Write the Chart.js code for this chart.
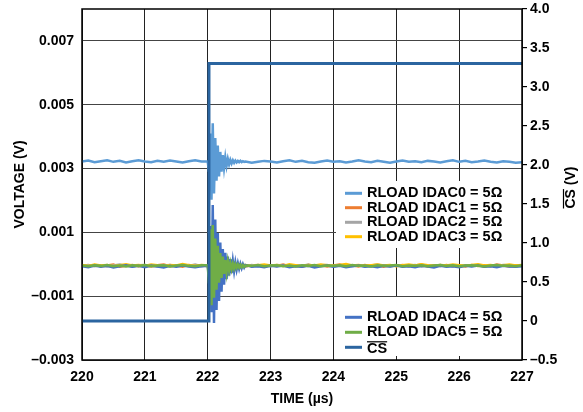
<!DOCTYPE html>
<html>
<head>
<meta charset="utf-8">
<script src="https://cdn.jsdelivr.net/npm/chart.js@4.4.0/dist/chart.umd.min.js"></script>
<style>
  html, body { margin: 0; padding: 0; background: #fff; }
</style>
</head>
<body>
<canvas id="chart" width="583" height="412"></canvas>
<script>
// time axis (µs), coarse samples for the flat parts of the traces
const timeBase = [
  220.0, 220.1, 220.2, 220.3, 220.4, 220.5, 220.6, 220.7, 220.8, 220.9,
  221.0, 221.1, 221.2, 221.3, 221.4, 221.5, 221.6, 221.7, 221.8, 221.9,
  222.0, 222.1, 222.2, 222.3, 222.4, 222.5, 222.6, 222.7, 222.8, 222.9,
  223.0, 223.1, 223.2, 223.3, 223.4, 223.5, 223.6, 223.7, 223.8, 223.9,
  224.0, 224.1, 224.2, 224.3, 224.4, 224.5, 224.6, 224.7, 224.8, 224.9,
  225.0, 225.1, 225.2, 225.3, 225.4, 225.5, 225.6, 225.7, 225.8, 225.9,
  226.0, 226.1, 226.2, 226.3, 226.4, 226.5, 226.6, 226.7, 226.8, 226.9,
  227.0
];
// fine samples for the ringing right after CS goes high
const ringTime = [
  222.00, 222.02, 222.04, 222.06, 222.08, 222.10, 222.12, 222.14, 222.16, 222.18,
  222.20, 222.22, 222.24, 222.26, 222.28, 222.30, 222.32, 222.34, 222.36, 222.38,
  222.40, 222.42, 222.44, 222.46, 222.48, 222.50, 222.52, 222.54, 222.56, 222.58,
  222.60
];

const idac0 = [
  0.00322, 0.00325, 0.00320, 0.00323, 0.00326, 0.00321, 0.00324, 0.00319, 0.00323, 0.00326,
  0.00322, 0.00320, 0.00324, 0.00321, 0.00325, 0.00322, 0.00319, 0.00323, 0.00326, 0.00322,
  0.00322, 0.00320, 0.00318, 0.00321, 0.00323, 0.00325, 0.00322, 0.00318, 0.00321, 0.00324,
  0.00322, 0.00319, 0.00323, 0.00326, 0.00321, 0.00324, 0.00320, 0.00318, 0.00322, 0.00325,
  0.00321, 0.00323, 0.00319, 0.00322, 0.00326, 0.00322, 0.00320, 0.00324, 0.00321, 0.00318,
  0.00322, 0.00325, 0.00321, 0.00323, 0.00320, 0.00324, 0.00322, 0.00319, 0.00323, 0.00326,
  0.00321, 0.00324, 0.00320, 0.00322, 0.00325, 0.00321, 0.00319, 0.00323, 0.00321, 0.00318,
  0.00320
];
const idac0Ring = [
  0.00322, 0.00290, 0.00410, 0.00202, 0.00442, 0.00222, 0.00396, 0.00262, 0.00372, 0.00275,
  0.00352, 0.00290, 0.00342, 0.00302, 0.00335, 0.00308, 0.00330, 0.00313, 0.00327, 0.00316,
  0.00326, 0.00318, 0.00325, 0.00319, 0.00324, 0.00320, 0.00324, 0.00320, 0.00323, 0.00321,
  0.00322
];
const idac1 = [
  -0.00003, -0.00007, -0.00002, -0.00006, -0.00004, -0.00001, -0.00008, -0.00005, -0.00002, -0.00006,
  -0.00004, -0.00007, -0.00003, -0.00001, -0.00006, -0.00004, -0.00008, -0.00002, -0.00005, -0.00003,
  -0.00006, -0.00002, -0.00005, -0.00008, -0.00003, -0.00001, -0.00006, -0.00004, -0.00002, -0.00007,
  -0.00003, -0.00005, -0.00001, -0.00006, -0.00004, -0.00008, -0.00002, -0.00005, -0.00003, -0.00007,
  -0.00004, -0.00001, -0.00006, -0.00003, -0.00007, -0.00002, -0.00005, -0.00004, -0.00008, -0.00003,
  -0.00005, -0.00002, -0.00006, -0.00004, -0.00001, -0.00007, -0.00003, -0.00005, -0.00002, -0.00006,
  -0.00004, -0.00007, -0.00002, -0.00005, -0.00003, -0.00006, -0.00001, -0.00004, -0.00007, -0.00003,
  -0.00005
];
const idac2 = [
  -0.00005, -0.00002, -0.00006, -0.00003, -0.00007, -0.00004, -0.00001, -0.00005, -0.00008, -0.00003,
  -0.00002, -0.00005, -0.00007, -0.00004, -0.00002, -0.00006, -0.00003, -0.00005, -0.00001, -0.00006,
  -0.00004, -0.00007, -0.00003, -0.00002, -0.00006, -0.00004, -0.00008, -0.00002, -0.00005, -0.00003,
  -0.00006, -0.00002, -0.00004, -0.00007, -0.00003, -0.00005, -0.00001, -0.00006, -0.00004, -0.00002,
  -0.00007, -0.00004, -0.00002, -0.00005, -0.00003, -0.00006, -0.00004, -0.00001, -0.00005, -0.00007,
  -0.00003, -0.00006, -0.00004, -0.00002, -0.00007, -0.00004, -0.00005, -0.00002, -0.00006, -0.00003,
  -0.00006, -0.00003, -0.00005, -0.00002, -0.00007, -0.00004, -0.00006, -0.00002, -0.00004, -0.00006,
  -0.00003
];
const idac3 = [
  -0.00002, -0.00005, -0.00001, -0.00004, -0.00002, -0.00006, -0.00003, 0.00000, -0.00004, -0.00002,
  -0.00005, -0.00001, -0.00003, -0.00006, -0.00002, -0.00004, 0.00001, -0.00003, -0.00005, -0.00002,
  -0.00004, -0.00001, -0.00005, -0.00003, 0.00000, -0.00004, -0.00002, -0.00006, -0.00003, -0.00001,
  -0.00004, -0.00002, -0.00005, 0.00000, -0.00003, -0.00006, -0.00002, -0.00004, -0.00001, -0.00003,
  -0.00005, -0.00002, 0.00001, -0.00004, -0.00002, -0.00005, -0.00003, -0.00001, -0.00004, -0.00002,
  -0.00006, -0.00003, -0.00001, -0.00004, 0.00000, -0.00003, -0.00005, -0.00002, -0.00004, -0.00001,
  -0.00003, -0.00005, -0.00002, 0.00000, -0.00004, -0.00002, -0.00005, -0.00003, -0.00001, -0.00004,
  -0.00002
];
const idac4 = [
  -0.00006, -0.00009, -0.00004, -0.00008, -0.00005, -0.00010, -0.00006, -0.00003, -0.00008, -0.00005,
  -0.00009, -0.00004, -0.00007, -0.00010, -0.00005, -0.00008, -0.00004, -0.00007, -0.00009, -0.00006,
  -0.00005, -0.00008, -0.00006, -0.00009, -0.00005, -0.00007, -0.00004, -0.00008, -0.00006, -0.00009,
  -0.00005, -0.00007, -0.00004, -0.00009, -0.00006, -0.00008, -0.00005, -0.00010, -0.00006, -0.00004,
  -0.00008, -0.00005, -0.00009, -0.00006, -0.00004, -0.00008, -0.00006, -0.00009, -0.00005, -0.00007,
  -0.00004, -0.00008, -0.00006, -0.00009, -0.00005, -0.00007, -0.00010, -0.00005, -0.00008, -0.00006,
  -0.00009, -0.00005, -0.00007, -0.00004, -0.00008, -0.00006, -0.00009, -0.00005, -0.00007, -0.00008,
  -0.00006
];
const idac4Ring = [
  -0.00005, -0.00040, 0.00120, -0.00150, 0.00186, -0.00184, 0.00140, -0.00143, 0.00098, -0.00115,
  0.00068, -0.00086, 0.00048, -0.00064, 0.00036, -0.00047, 0.00024, -0.00036, 0.00016, -0.00028,
  0.00010, -0.00021, 0.00006, -0.00017, 0.00003, -0.00014, 0.00001, -0.00012, 0.00000, -0.00010,
  -0.00002
];
const idac5 = [
  -0.00004, -0.00006, -0.00003, -0.00005, -0.00002, -0.00006, -0.00004, -0.00007, -0.00003, -0.00005,
  -0.00002, -0.00006, -0.00004, -0.00003, -0.00007, -0.00004, -0.00002, -0.00005, -0.00006, -0.00003,
  -0.00004, -0.00006, -0.00003, -0.00005, -0.00004, -0.00007, -0.00003, -0.00005, -0.00002, -0.00006,
  -0.00004, -0.00003, -0.00006, -0.00004, -0.00007, -0.00003, -0.00005, -0.00002, -0.00006, -0.00004,
  -0.00005, -0.00003, -0.00006, -0.00002, -0.00005, -0.00004, -0.00007, -0.00003, -0.00005, -0.00004,
  -0.00002, -0.00006, -0.00004, -0.00005, -0.00003, -0.00006, -0.00004, -0.00002, -0.00005, -0.00003,
  -0.00006, -0.00004, -0.00003, -0.00005, -0.00007, -0.00004, -0.00002, -0.00005, -0.00004, -0.00006,
  -0.00003
];
const idac5Ring = [
  -0.00003, -0.00060, 0.00110, -0.00128, 0.00123, -0.00105, 0.00081, -0.00080, 0.00058, -0.00058,
  0.00035, -0.00043, 0.00024, -0.00030, 0.00013, -0.00024, 0.00008, -0.00018, 0.00004, -0.00015,
  0.00002, -0.00013, 0.00000, -0.00011, -0.00001, -0.00010, -0.00002, -0.00009, -0.00003, -0.00008,
  -0.00004
];

// CS (right axis, V)
const csTime = [220, 222.02, 222.02, 227];
const csVolts = [0, 0, 3.3, 3.3];

const labels = ['RLOAD IDAC0 = 5Ω', 'RLOAD IDAC1 = 5Ω', 'RLOAD IDAC2 = 5Ω', 'RLOAD IDAC3 = 5Ω',
                'RLOAD IDAC4 = 5Ω', 'RLOAD IDAC5 = 5Ω', 'CS'];
const colors = ['#5b9bd5', '#ed7d31', '#a5a5a5', '#ffc000', '#4472c4', '#70ad47', '#2b65a0'];

const leftTicks = [-0.003, -0.001, 0.001, 0.003, 0.005, 0.007];
const rightTicks = [-0.5, 0, 0.5, 1.0, 1.5, 2.0, 2.5, 3.0, 3.5, 4.0];

const FONT = '"Liberation Sans", Arial, sans-serif';

function plain(values) {
  return timeBase.map((t, i) => ({ x: t, y: values[i] }));
}
function withRing(values, ring) {
  const pts = plain(values).filter(p => p.x < 222.0 || p.x > 222.6);
  ringTime.forEach((t, i) => pts.push({ x: t, y: ring[i] }));
  return pts.sort((a, b) => a.x - b.x);
}

const series = [
  withRing(idac0, idac0Ring),
  plain(idac1),
  plain(idac2),
  plain(idac3),
  withRing(idac4, idac4Ring),
  withRing(idac5, idac5Ring),
  csTime.map((t, i) => ({ x: t, y: csVolts[i] }))
];

const datasets = series.map((d, i) => ({
  label: labels[i],
  data: d,
  borderColor: colors[i],
  backgroundColor: colors[i],
  borderWidth: i === 6 ? 3 : 2.5,
  pointRadius: 0,
  tension: 0,
  yAxisID: i === 6 ? 'y2' : 'y',
  order: 7 - i
}));

// two legend boxes inside the plot, the lower one holds IDAC4, IDAC5 and CS
const splitLegend = {
  id: 'splitLegend',
  afterDatasetsDraw(chart) {
    const ctx = chart.ctx;
    const a = chart.chartArea;
    const groups = [
      { box: [254, 172, 186, 67], rows: [184.3, 198.7, 213.3, 227.7], items: [0, 1, 2, 3] },
      { box: [254, 288, 186, 59], rows: [308.3, 323.3, 338.3], items: [4, 5, 6] }
    ];
    ctx.save();
    ctx.font = 'bold 14.5px ' + FONT;
    ctx.textBaseline = 'middle';
    groups.forEach(g => {
      ctx.fillStyle = '#fff';
      ctx.fillRect(a.left + g.box[0], a.top + g.box[1], g.box[2], g.box[3]);
      g.items.forEach((idx, k) => {
        const ds = chart.data.datasets[idx];
        const y = a.top + g.rows[k];
        const x0 = a.left + 263;
        ctx.strokeStyle = ds.borderColor;
        ctx.lineWidth = 3;
        ctx.beginPath();
        ctx.moveTo(x0, y);
        ctx.lineTo(x0 + 17, y);
        ctx.stroke();
        ctx.fillStyle = '#000';
        const tx = x0 + 22;
        if (idx === 6) {
          ctx.fillText(ds.label, tx, y + 2);
          const w = ctx.measureText(ds.label).width;
          ctx.lineWidth = 1.2;
          ctx.strokeStyle = '#000';
          ctx.beginPath();
          ctx.moveTo(tx, y - 5.5);
          ctx.lineTo(tx + w, y - 5.5);
          ctx.stroke();
        } else {
          ctx.fillText(ds.label, tx, y);
        }
      });
    });
    ctx.restore();
  },
  afterDraw(chart) {
    const ctx = chart.ctx;
    const a = chart.chartArea;
    ctx.save();
    ctx.strokeStyle = '#000';
    ctx.lineWidth = 1.5;
    ctx.strokeRect(a.left, a.top, a.right - a.left, a.bottom - a.top);
    // right axis title, reads bottom to top, overline on CS
    ctx.translate(a.right + 49, (a.top + a.bottom) / 2 + 3);
    ctx.rotate(-Math.PI / 2);
    ctx.font = 'bold 14px ' + FONT;
    ctx.fillStyle = '#000';
    ctx.textAlign = 'left';
    ctx.textBaseline = 'middle';
    const txt = 'CS (V)';
    const full = ctx.measureText(txt).width;
    const cs = ctx.measureText('CS').width;
    ctx.fillText(txt, -full / 2, 0);
    ctx.lineWidth = 1.2;
    ctx.beginPath();
    ctx.moveTo(-full / 2, -7.5);
    ctx.lineTo(-full / 2 + cs, -7.5);
    ctx.stroke();
    ctx.restore();
  }
};

const noPadV = s => { s.paddingTop = 0; s.paddingBottom = 0; };

new Chart(document.getElementById('chart'), {
  type: 'line',
  data: { datasets: datasets },
  options: {
    responsive: false,
    animation: false,
    layout: { padding: { top: 9, left: 0, right: 0, bottom: 0 } },
    plugins: {
      legend: { display: false },
      tooltip: { enabled: false }
    },
    scales: {
      x: {
        type: 'linear',
        min: 220,
        max: 227,
        border: { display: false },
        grid: { color: '#222', lineWidth: 1, drawTicks: false },
        ticks: {
          stepSize: 1,
          padding: 9,
          color: '#000',
          font: { family: FONT, size: 14, weight: 'bold' },
          maxRotation: 0
        },
        title: {
          display: true,
          text: 'TIME (µs)',
          color: '#000',
          font: { family: FONT, size: 14, weight: 'bold' },
          padding: { top: 0, bottom: 4 }
        },
        afterFit: s => { s.height = 52; s.paddingLeft = 0; s.paddingRight = 0; }
      },
      y: {
        position: 'left',
        min: -0.003,
        max: 0.008,
        border: { display: false },
        grid: { color: '#444', lineWidth: 1, drawTicks: false },
        afterBuildTicks: s => { s.ticks = leftTicks.map(v => ({ value: v })); },
        ticks: {
          padding: 8,
          color: '#000',
          font: { family: FONT, size: 14, weight: 'bold' },
          callback: v => (v < 0 ? '\u2013' : '') + Math.abs(v).toFixed(3)
        },
        title: {
          display: true,
          text: 'VOLTAGE (V)',
          color: '#000',
          font: { family: FONT, size: 14, weight: 'bold' },
          padding: { top: 12, bottom: 0 }
        },
        afterFit: s => { s.width = 82; noPadV(s); }
      },
      y2: {
        position: 'right',
        min: -0.5,
        max: 4.0,
        border: { display: false },
        grid: { drawOnChartArea: false, drawTicks: true, tickLength: 5, color: '#000', lineWidth: 1.2 },
        afterBuildTicks: s => { s.ticks = rightTicks.map(v => ({ value: v })); },
        ticks: {
          padding: 3,
          color: '#000',
          font: { family: FONT, size: 14, weight: 'bold' },
          callback: v => v === 0 ? '0' : (v < 0 ? '\u2013' : '') + Math.abs(v).toFixed(1)
        },
        afterFit: s => { s.width = 61; noPadV(s); }
      }
    }
  },
  plugins: [splitLegend]
});
</script>
</body>
</html>
